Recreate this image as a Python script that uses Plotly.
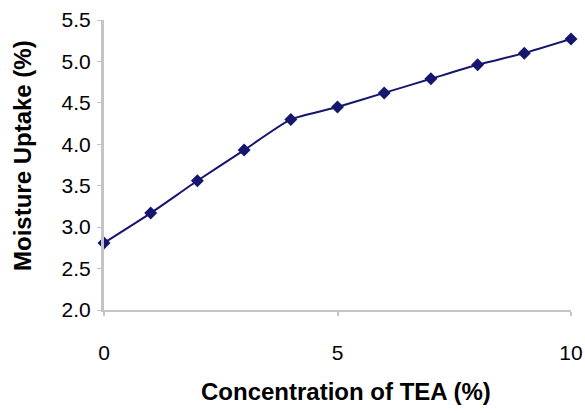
import plotly.graph_objects as go

tea_conc = [0, 1, 2, 3, 4, 5, 6, 7, 8, 9, 10]
moisture_uptake = [2.81, 3.17, 3.56, 3.93, 4.30, 4.45, 4.62, 4.79, 4.96, 5.10, 5.27]
x_ticks = [0, 5, 10]
y_ticks = [2.0, 2.5, 3.0, 3.5, 4.0, 4.5, 5.0, 5.5]

navy = "#16166e"
fig = go.Figure()
fig.add_trace(go.Scatter(
    x=tea_conc, y=moisture_uptake, mode="lines+markers",
    line=dict(color=navy, width=2, shape="spline", smoothing=0.5),
    marker=dict(symbol="diamond", size=10, color=navy),
    cliponaxis=False, showlegend=False,
))

font_family = "Liberation Sans, Arial, sans-serif"
W, H = 585, 413
L, R, T, B = 104, 14, 20, 103
fig.update_layout(
    width=W, height=H,
    margin=dict(l=L, r=R, t=T, b=B, autoexpand=False),
    paper_bgcolor="white", plot_bgcolor="white",
    font=dict(family=font_family, color="black"),
)
fig.update_xaxes(
    range=[0, 10], tickvals=x_ticks, ticktext=[str(v) for v in x_ticks],
    showgrid=False, zeroline=False, showline=True, linecolor="#c4c4c4", linewidth=2,
    ticks="outside", ticklen=4, tickcolor="#c4c4c4", tickwidth=2,
    tickfont=dict(size=21), ticklabelstandoff=19, automargin=False,
)
fig.update_yaxes(
    range=[2, 5.5], tickvals=y_ticks, ticktext=[f"{v:.1f}" for v in y_ticks],
    showgrid=False, zeroline=False, showline=True, linecolor="#c4c4c4", linewidth=3,
    ticks="outside", ticklen=4, tickcolor="#c4c4c4", tickwidth=1,
    tickfont=dict(size=21), ticklabelstandoff=2, automargin=False,
)
pw, ph = W - L - R, H - T - B
fig.add_annotation(
    text="<b>Concentration of TEA (%)</b>", xref="paper", yref="paper",
    x=(346 - L) / pw, y=(H - B - 392) / ph, showarrow=False,
    xanchor="center", yanchor="middle", font=dict(size=24),
)
fig.add_annotation(
    text="<b>Moisture Uptake (%)</b>", xref="paper", yref="paper",
    x=(22 - L) / pw, y=(H - B - 156) / ph, showarrow=False, textangle=-90,
    xanchor="center", yanchor="middle", font=dict(size=24),
)
fig.write_html("out.html", config={"displayModeBar": False},
               post_script="document.body.style.margin='0';")
